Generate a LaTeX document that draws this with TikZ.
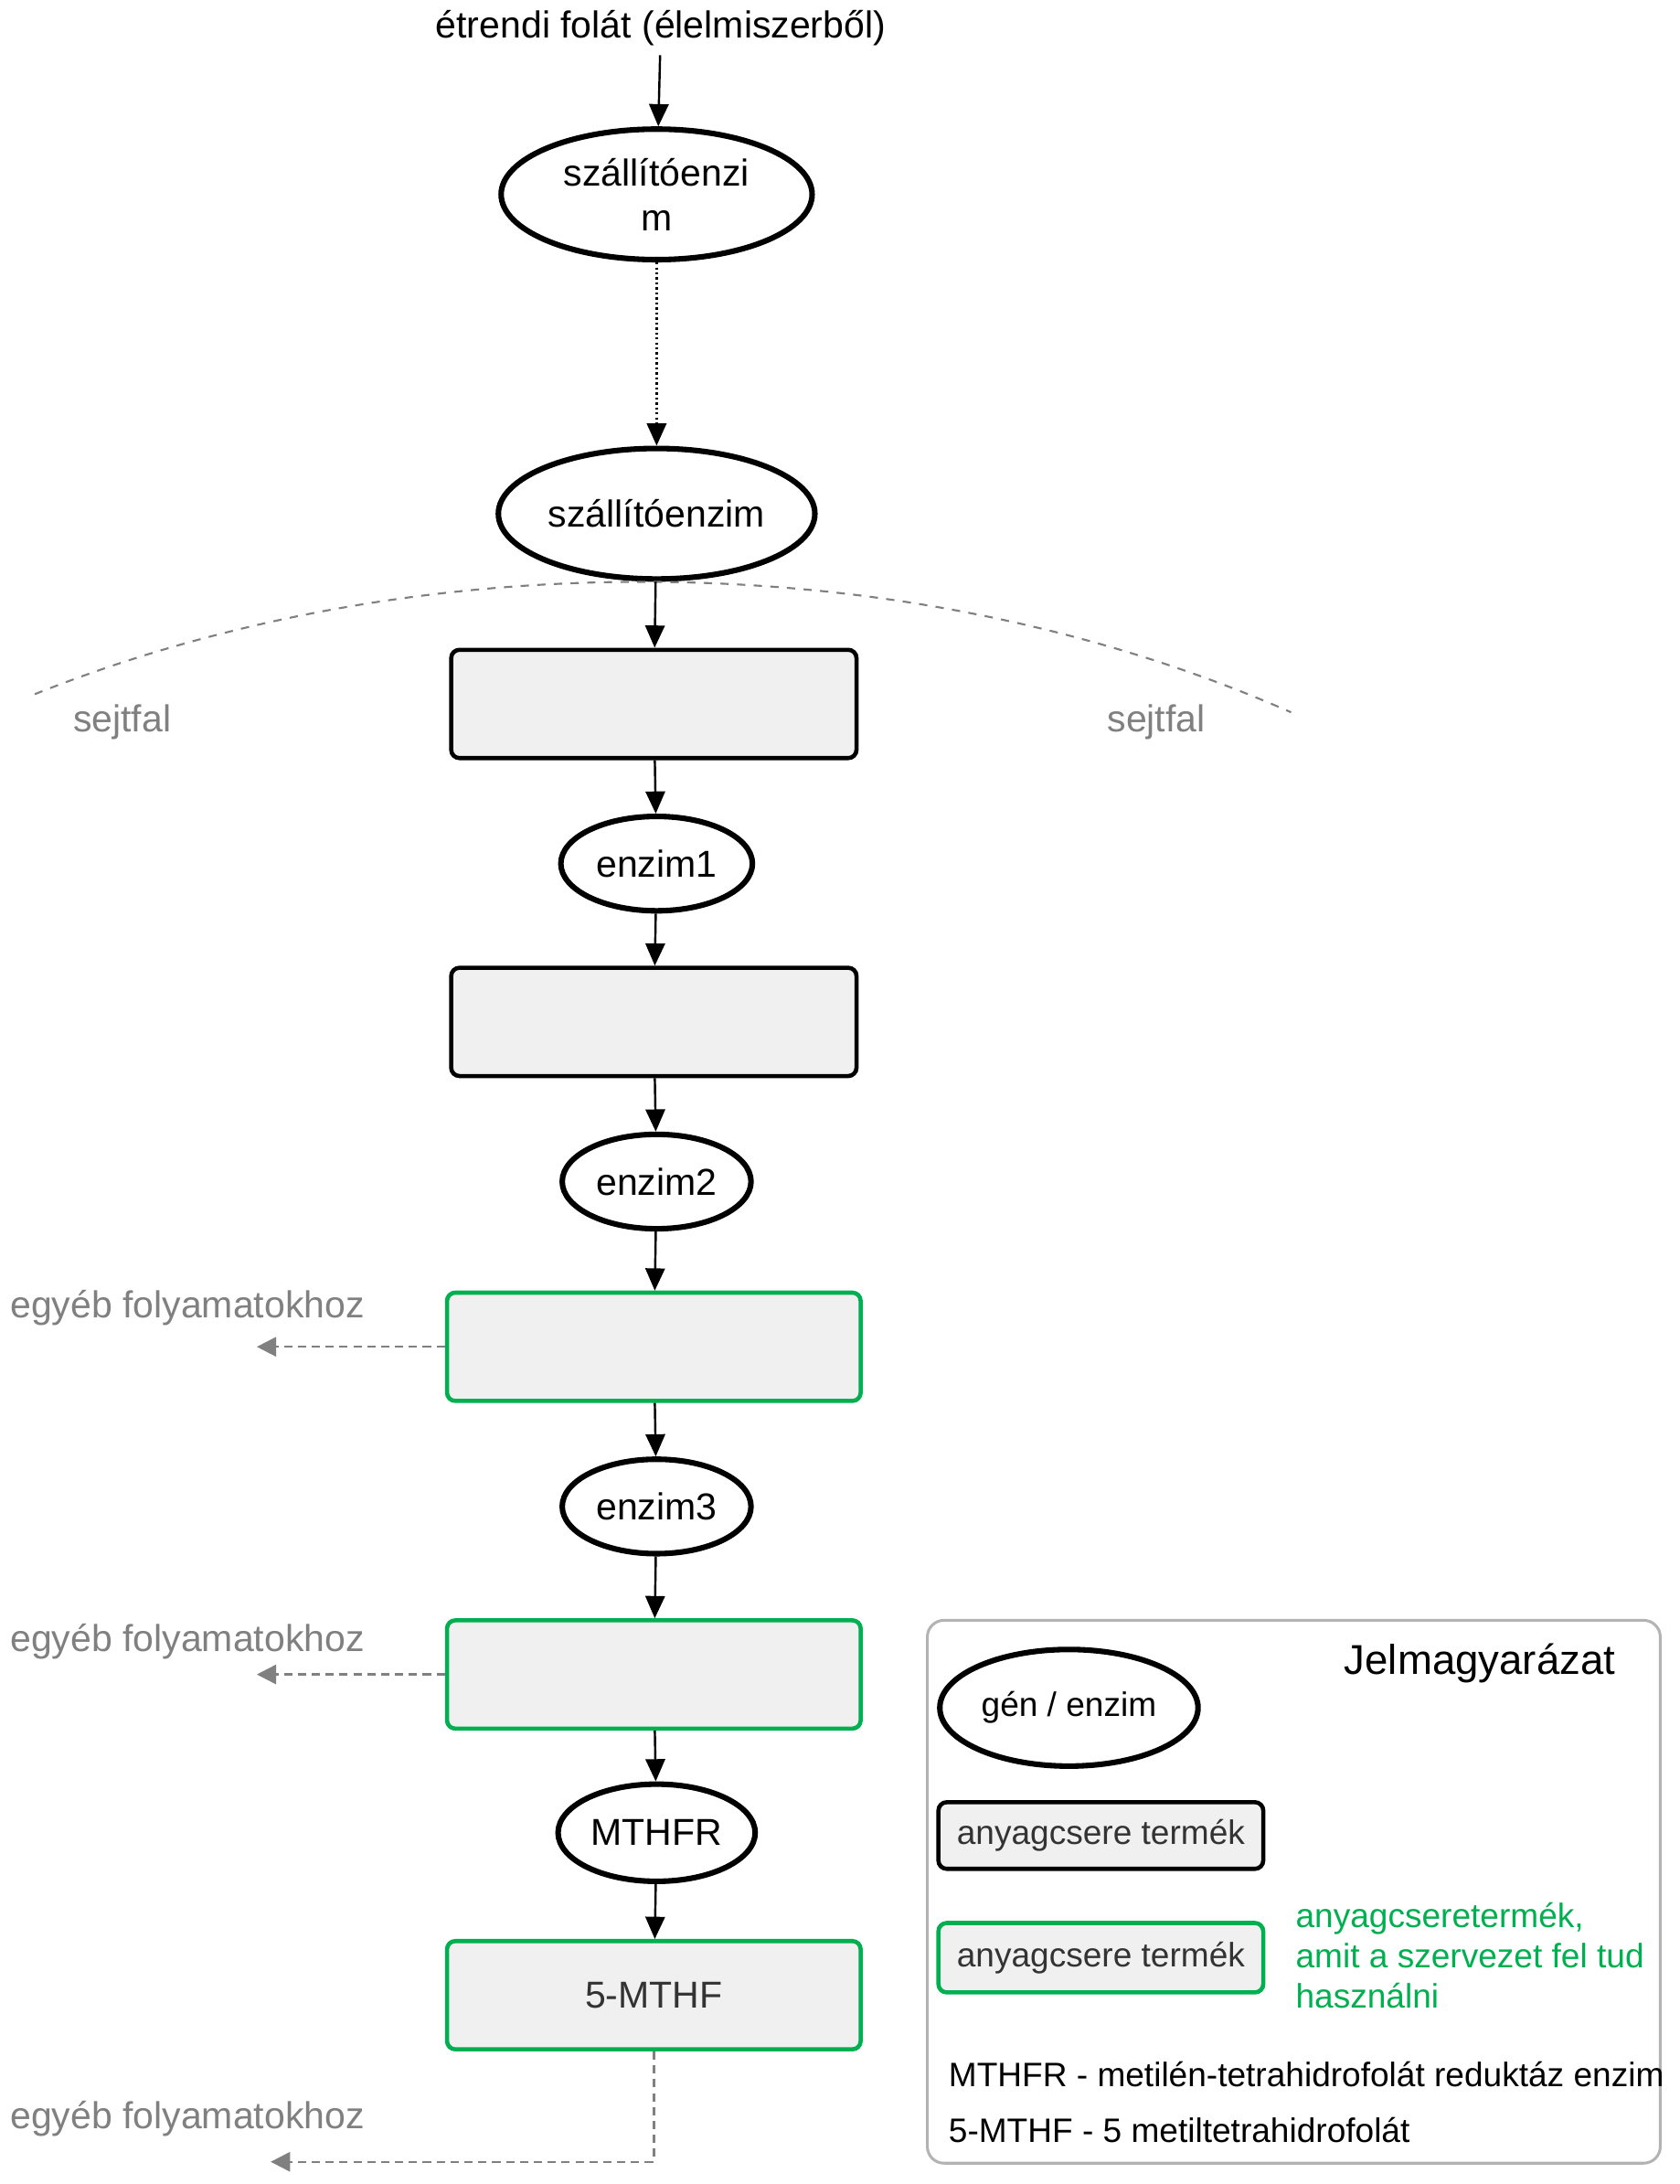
\documentclass[tikz,border=0pt]{standalone}
\usepackage{fontspec}
\setmainfont{Liberation Sans}
\usetikzlibrary{shapes.geometric,arrows.meta}
\definecolor{gr}{HTML}{00B050}
\definecolor{gy}{HTML}{808080}
\definecolor{fl}{HTML}{F0F0F0}
\begin{document}
\begin{tikzpicture}[x=0.5pt,y=-0.5pt,
 ell/.style={ellipse,draw,line width=2pt,inner sep=0pt,font=\fontsize{13.5}{16}\selectfont},
 box/.style={draw,line width=1.5pt,rounded corners=3pt,fill=fl,minimum width=146pt,minimum height=39pt,inner sep=0pt,font=\fontsize{13.5}{16}\selectfont,text=black!80},
 gbox/.style={box,draw=gr},
 arr/.style={-{Triangle[length=8pt,width=7pt]},line width=0.8pt},
 garr/.style={-{Triangle[length=7pt,width=7pt]},densely dashed,gy,line width=0.8pt},
 gtxt/.style={text=gy,font=\fontsize{13.5}{16}\selectfont}]
\useasboundingbox (0,0) rectangle (1210,1573);
\node[font=\fontsize{13.5}{16}\selectfont] (top) at (476,20) {étrendi folát (élelmiszerből)};
\node[ell,minimum width=112pt,minimum height=47pt,align=center] (e1) at (473,140) {szállítóenzi\\m};
\node[ell,minimum width=114pt,minimum height=47pt] (e2) at (473,370) {szállítóenzim};
\draw[gy,dashed,line width=0.7pt] (25,500) .. controls (300,390) and (650,390) .. (930,513);
\node[gtxt] (s1) at (88,520) {sejtfal};
\node[gtxt] (s2) at (833,520) {sejtfal};
\node[box] (r1) at (471,507) {};
\node[ell,minimum width=69pt,minimum height=34pt] (n1) at (473,622) {enzim1};
\node[box] (r2) at (471,736) {};
\node[ell,minimum width=68pt,minimum height=34pt] (n2) at (473,851) {enzim2};
\node[gbox,minimum width=149pt] (r3) at (471,970) {};
\node[ell,minimum width=68pt,minimum height=34pt] (n3) at (473,1085) {enzim3};
\node[gbox,minimum width=149pt] (r4) at (471,1206) {};
\node[ell,minimum width=71pt,minimum height=35pt] (n4) at (473,1320) {MTHFR};
\node[gbox,minimum width=149pt] (r5) at (471,1437) {5-MTHF};
\draw[arr] (top) -- (e1);
\draw[arr,densely dotted] (e1) -- (e2);
\draw[arr] (e2) -- (r1);
\draw[arr] (r1) -- (n1);
\draw[arr] (n1) -- (r2);
\draw[arr] (r2) -- (n2);
\draw[arr] (n2) -- (r3);
\draw[arr] (r3) -- (n3);
\draw[arr] (n3) -- (r4);
\draw[arr] (r4) -- (n4);
\draw[arr] (n4) -- (r5);
\coordinate (c1) at (185,970);
\coordinate (c2) at (185,1206);
\coordinate (c3) at (195,1557);
\draw[garr] (r3.west) -- (c1);
\draw[garr] (r4.west) -- (c2);
\draw[garr] (r5.south) |- (c3);
\node[gtxt] (t1) at (135,942) {egyéb folyamatokhoz};
\node[gtxt] (t2) at (135,1182) {egyéb folyamatokhoz};
\node[gtxt] (t3) at (135,1526) {egyéb folyamatokhoz};
% legend
\draw[gy!60,line width=1pt,rounded corners=6pt] (668,1167) rectangle (1196,1558);
\node[font=\fontsize{15}{18}\selectfont] (lt) at (1066,1198) {Jelmagyarázat};
\node[ell,minimum width=93pt,minimum height=42pt,font=\fontsize{12.2}{15}\selectfont] (le) at (770,1230) {gén / enzim};
\node[box,minimum width=117pt,minimum height=24pt,font=\fontsize{12.2}{15}\selectfont] (lb1) at (793,1322) {anyagcsere termék};
\node[gbox,minimum width=117pt,minimum height=25pt,font=\fontsize{12.2}{15}\selectfont] (lb2) at (793,1410) {anyagcsere termék};
\node[anchor=north west,text=gr,align=left,font=\fontsize{12.2}{14.5}\selectfont,inner sep=0pt] (lg) at (933,1370) {anyagcseretermék,\\amit a szervezet fel tud\\használni};
\node[anchor=west,inner sep=0pt,font=\fontsize{12.2}{15}\selectfont] (l1) at (683,1494) {MTHFR - metilén-tetrahidrofolát reduktáz enzim};
\node[anchor=west,inner sep=0pt,font=\fontsize{12.2}{15}\selectfont] (l2) at (683,1534) {5-MTHF - 5 metiltetrahidrofolát};
\end{tikzpicture}
\end{document}
